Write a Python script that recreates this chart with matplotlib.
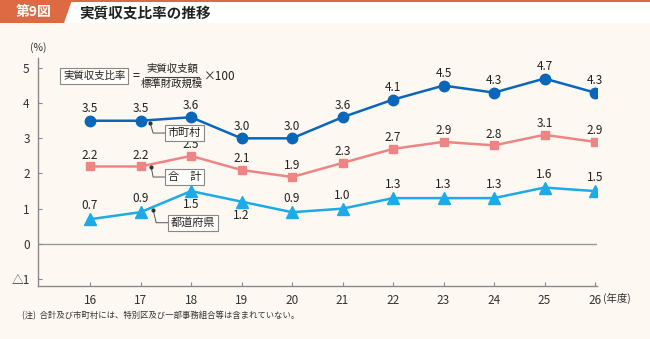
import matplotlib
matplotlib.use('Agg')
import matplotlib.pyplot as plt
from matplotlib.patches import Polygon, Rectangle
from matplotlib.lines import Line2D

plt.rcParams['font.family'] = ['Noto Sans CJK JP', 'DejaVu Sans']

# ---- data ----
years = [16, 17, 18, 19, 20, 21, 22, 23, 24, 25, 26]
municipal = [3.5, 3.5, 3.6, 3.0, 3.0, 3.6, 4.1, 4.5, 4.3, 4.7, 4.3]
total = [2.2, 2.2, 2.5, 2.1, 1.9, 2.3, 2.7, 2.9, 2.8, 3.1, 2.9]
prefectural = [0.7, 0.9, 1.5, 1.2, 0.9, 1.0, 1.3, 1.3, 1.3, 1.6, 1.5]
pref_labels_below = [18, 19]
yticks = [-1, 0, 1, 2, 3, 4, 5]
ytick_labels = ['△1', '0', '1', '2', '3', '4', '5']
series_names = ['市町村', '合\u3000計', '都道府県']

W, H = 650, 339
BG = '#FDF8F1'
ORANGE = '#DE6A43'
C_MUN = '#0A66B8'
C_TOT = '#EE8585'
C_PREF = '#1CAAE8'
TXT = '#222222'


def P(x, y):
    return (x / W, 1 - y / H)


fig = plt.figure(figsize=(6.5, 3.39), dpi=100)
fig.patch.set_facecolor(BG)

# header
fig.patches.append(Rectangle(P(0, 23), 1, 23 / H, transform=fig.transFigure,
                             facecolor='white', edgecolor='none', zorder=0))
fig.patches.append(Rectangle(P(0, 2), 1, 2 / H, transform=fig.transFigure,
                             facecolor=ORANGE, edgecolor='none', zorder=1))
fig.patches.append(Polygon([P(0, 0), P(72, 0), P(64, 23), P(0, 23)], closed=True,
                           transform=fig.transFigure, facecolor=ORANGE,
                           edgecolor='none', zorder=1))
fig.text(*P(34, 12), '第9図', color='white', fontsize=10, fontweight='bold',
         ha='center', va='center')
fig.text(*P(79, 12.5), '実質収支比率の推移', color=TXT, fontsize=10.5,
         fontweight='bold', ha='left', va='center')

# axes
ax = fig.add_axes([38 / W, 1 - 286 / H, (597 - 38) / W, (286 - 58) / H])
ax.set_facecolor('none')
ax.set_xlim(16 - 52 / 50.5, 26 + 2 / 50.5)
ax.set_ylim(-1 - 7 / 35.2, 5 + 10 / 35.2)
for s in ['top', 'right']:
    ax.spines[s].set_visible(False)
for s in ['left', 'bottom']:
    ax.spines[s].set_color('#8a8a8a')
    ax.spines[s].set_linewidth(1.0)
ax.set_xticks(years)
ax.set_xticklabels([str(y) for y in years])
ax.set_yticks(yticks)
ax.set_yticklabels(ytick_labels)
ax.tick_params(direction='in', length=3, color='#8a8a8a', labelsize=8.5,
               labelcolor='#333333', pad=6)
ax.axhline(0, color='#9a9a9a', lw=1.0, zorder=1)

ax.plot(years, municipal, color=C_MUN, lw=1.8, marker='o', ms=7.5, zorder=3)
ax.plot(years, total, color=C_TOT, lw=1.8, marker='s', ms=5.8, zorder=3)
ax.plot(years, prefectural, color=C_PREF, lw=1.8, marker='^', ms=8, zorder=3)

for x, v in zip(years, municipal):
    ax.annotate(f'{v:.1f}', (x, v), xytext=(0, 4), textcoords='offset points',
                ha='center', va='bottom', fontsize=8.5, color=TXT)
for x, v in zip(years, total):
    ax.annotate(f'{v:.1f}', (x, v), xytext=(0, 3.5), textcoords='offset points',
                ha='center', va='bottom', fontsize=8.5, color=TXT)
for x, v in zip(years, prefectural):
    if x in pref_labels_below:
        ax.annotate(f'{v:.1f}', (x, v), xytext=(0, -5), textcoords='offset points',
                    ha='center', va='top', fontsize=8.5, color=TXT)
    else:
        ax.annotate(f'{v:.1f}', (x, v), xytext=(0, 5), textcoords='offset points',
                    ha='center', va='bottom', fontsize=8.5, color=TXT)

# series callouts (dot -> bent leader -> boxed name)
callouts = [
    ((17.19, 3.44), (17.25, 3.15), (17.54, 3.15), series_names[0]),
    ((17.21, 2.19), (17.25, 1.90), (17.54, 1.90), series_names[1]),
    ((17.25, 0.97), (17.31, 0.60), (17.60, 0.60), series_names[2]),
]
for dot, corner, end, name in callouts:
    ax.plot([dot[0], corner[0], end[0]], [dot[1], corner[1], end[1]],
            color='#555555', lw=0.7, zorder=4)
    ax.plot([dot[0]], [dot[1]], 'o', color='#333333', ms=2, zorder=4)
    ax.text(end[0], end[1], name, ha='left', va='center', fontsize=8,
            color=TXT, zorder=5,
            bbox=dict(boxstyle='square,pad=0.25', fc='#FFFEFB', ec='#888888', lw=0.8))

# formula
fig.text(*P(63, 76), '実質収支比率', ha='left', va='center', fontsize=7.5, color=TXT,
         bbox=dict(boxstyle='square,pad=0.25', fc='#FFFEFB', ec='#888888', lw=0.8))
fig.text(*P(136, 76), '=', ha='center', va='center', fontsize=9, color=TXT)
fig.text(*P(172, 69), '実質収支額', ha='center', va='center', fontsize=7.5, color=TXT)
fig.text(*P(172, 84), '標準財政規模', ha='center', va='center', fontsize=7.5, color=TXT)
fig.lines.append(Line2D([145 / W, 199 / W], [1 - 76.5 / H, 1 - 76.5 / H],
                        transform=fig.transFigure, color='#444444', lw=0.8))
fig.text(*P(204, 76), '×100', ha='left', va='center', fontsize=8.5, color=TXT)

# axis unit labels
fig.text(*P(38, 48), '(%)', ha='center', va='center', fontsize=7.5, color='#333333')
fig.text(*P(603, 298), '(年度)', ha='left', va='center', fontsize=7.5, color='#333333')

# footnote
fig.text(*P(22, 316), '(注)  合計及び市町村には、特別区及び一部事務組合等は含まれていない。',
         ha='left', va='center', fontsize=6.0, color='#333333')

fig.savefig('out.png', dpi=100, facecolor=fig.get_facecolor())
